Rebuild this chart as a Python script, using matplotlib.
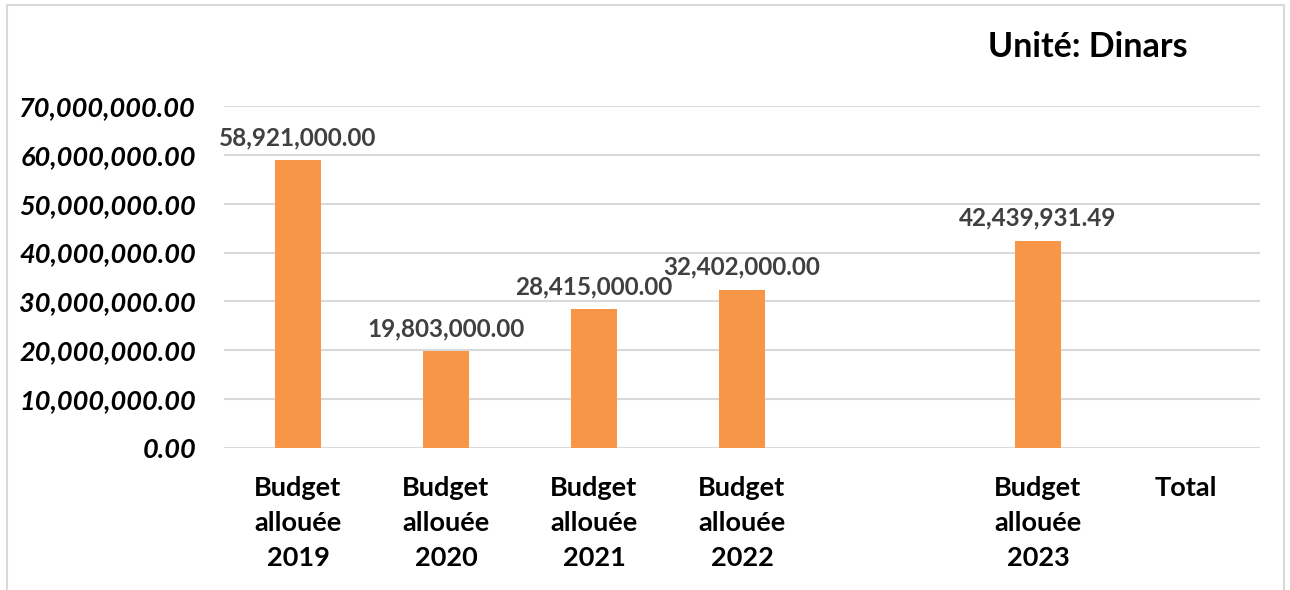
import matplotlib
matplotlib.use("Agg")
import matplotlib.pyplot as plt
from matplotlib.patches import Rectangle
from matplotlib.ticker import FuncFormatter

plt.rcParams["font.family"] = ["Lato", "DejaVu Sans"]

# données
categories = ["Budget\nallouée\n2019", "Budget\nallouée\n2020", "Budget\nallouée\n2021",
              "Budget\nallouée\n2022", "", "Budget\nallouée\n2023", "Total"]
budgets = [58921000.00, 19803000.00, 28415000.00, 32402000.00, None, 42439931.49, None]
y_ticks = [0, 10000000, 20000000, 30000000, 40000000, 50000000, 60000000, 70000000]

fig = plt.figure(figsize=(12.9, 5.9), dpi=100)
ax = fig.add_axes([224 / 1290, 1 - 448 / 590, 1036 / 1290, 342 / 590])

# cadre gris autour du graphique
fig.patches.append(Rectangle((7 / 1290, -0.01), 1277 / 1290, 1 - 5 / 590 + 0.01,
                             transform=fig.transFigure, fill=False,
                             edgecolor="#D9D9D9", linewidth=1.5))

x = list(range(len(categories)))
for i, v in enumerate(budgets):
    if v is None:
        continue
    ax.bar(i, v, width=0.31, color="#F79646", zorder=3)
    ax.annotate(f"{v:,.2f}", (i, v), xytext=(0, 8), textcoords="offset points",
                ha="center", va="bottom", fontsize=17.5, fontweight="bold",
                color="#404040")

ax.set_xlim(-0.5, len(categories) - 0.5)
ax.set_ylim(0, 70000000)
ax.set_yticks(y_ticks)
ax.yaxis.set_major_formatter(FuncFormatter(lambda v, p: f"{v:,.2f}"))
ax.set_xticks(x)
ax.set_xticklabels(categories, fontsize=19.5, fontweight="bold", linespacing=1.55)

for lab in ax.get_yticklabels():
    lab.set_fontsize(19.5)
    lab.set_fontweight("bold")
    lab.set_fontstyle("italic")

ax.tick_params(axis="y", length=0, pad=20)
ax.tick_params(axis="x", length=0, pad=20)
ax.grid(True, axis="y", color="#D9D9D9", linewidth=1.5, zorder=0)
for s in ax.spines.values():
    s.set_visible(False)

fig.text(1088 / 1290, 1 - 47 / 590, "Unité: Dinars", ha="center", va="center",
         fontsize=24.5, fontweight="bold", color="black")

fig.savefig("out.png", dpi=100)
